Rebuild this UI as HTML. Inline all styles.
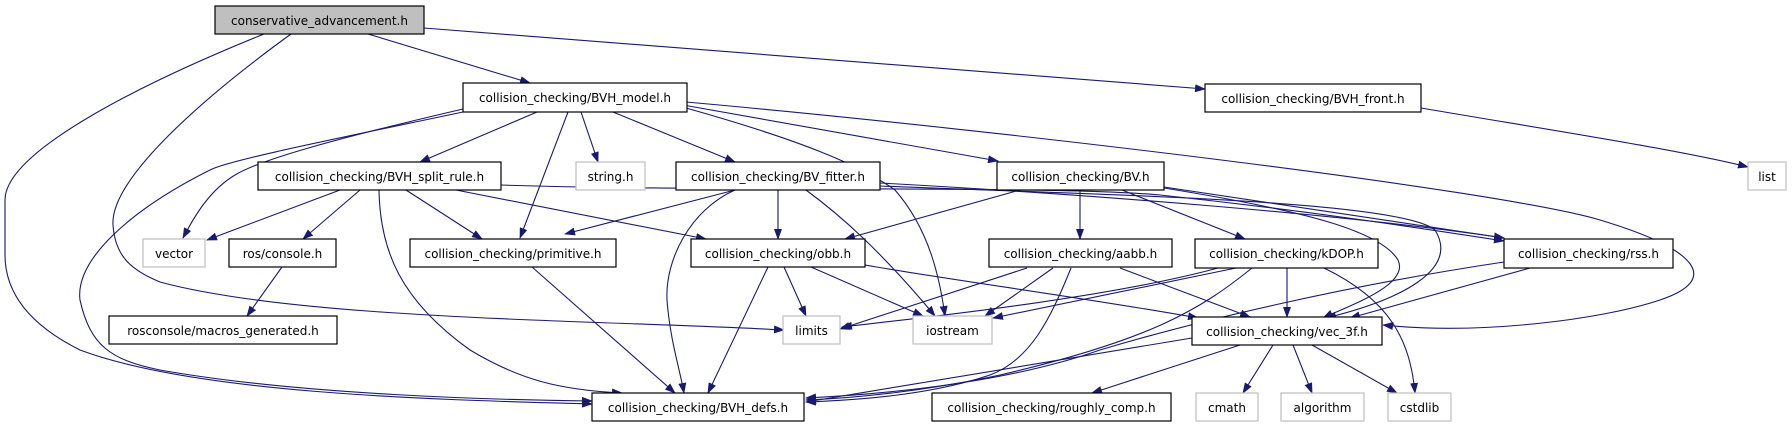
<!DOCTYPE html>
<html><head><meta charset="utf-8"><style>
html,body{margin:0;padding:0;background:#fff;}
svg{display:block;}
text{font-family:"DejaVu Sans","Liberation Sans",sans-serif;font-size:12px;fill:#000;}
.n{fill:#fff;stroke:#000;stroke-width:1.2;}
.g{fill:#fff;stroke:#bfbfbf;stroke-width:1.2;}
.e{fill:none;stroke:#191970;stroke-width:1.1;}
</style></head><body>
<svg width="1792" height="427" viewBox="0 0 1792 427" xmlns="http://www.w3.org/2000/svg">
<defs>
<marker id="a" markerWidth="11" markerHeight="8" refX="10" refY="4" orient="auto" markerUnits="userSpaceOnUse">
<path d="M0,0 L11,4 L0,8 z" fill="#191970"/>
</marker>
</defs>
<g class="e" marker-end="url(#a)">
<!-- conservative -->
<path d="M368,34 L530,83"/>
<path d="M424,28 L1205,89"/>
<path d="M291,34 C200,100 110,180 113,225 C115,255 130,270 160,282 C300,320 600,320 784,330"/>
<path d="M264,34 C150,80 5,150 5,200 L5,255 C5,300 40,330 80,350 C200,395 450,400 592,404"/>
<!-- BVH_model -->
<path d="M537,112 L420,162"/>
<path d="M581,112 L598,162"/>
<path d="M613,112 L735,162"/>
<path d="M683,105 L998,161"/>
<path d="M463,109 C330,140 260,160 235,175 C210,190 195,215 183,238"/>
<path d="M463,112 C330,140 230,160 210,170 C130,210 75,260 80,300 C90,345 110,360 160,370 C300,395 500,400 592,401"/>
<path d="M568,112 L520,238"/>
<path d="M686,108 C800,140 860,165 895,190 C930,230 940,280 945,316"/>
<path d="M686,102 C1000,130 1500,190 1600,220 C1700,250 1720,280 1660,300 C1600,320 1480,335 1383,325"/>
<!-- split_rule -->
<path d="M340,190 L207,240"/>
<path d="M360,190 L303,239"/>
<path d="M406,190 L482,239"/>
<path d="M379,190 C380,250 400,300 470,350 C520,380 560,390 622,393"/>
<path d="M456,190 L706,239"/>
<path d="M501,185 C700,192 1050,185 1160,195 C1300,210 1400,225 1504,241"/>
<!-- BV_fitter -->
<path d="M735,190 L565,234"/>
<path d="M778,190 L778,239"/>
<path d="M735,190 C690,210 665,260 667,300 C670,340 680,370 684,393"/>
<path d="M806,190 C840,215 880,250 935,316"/>
<path d="M880,183 C1100,195 1350,215 1504,238"/>
<path d="M880,186 C1100,195 1400,200 1435,230 C1460,270 1400,300 1326,318"/>
<!-- BV.h -->
<path d="M1020,190 L845,239"/>
<path d="M1080,190 L1080,239"/>
<path d="M1122,190 L1245,239"/>
<path d="M1164,187 L1504,238"/>
<path d="M1164,188 C1300,210 1380,230 1398,260 C1410,285 1350,305 1323,318"/>
<!-- obb -->
<path d="M784,267 L806,316"/>
<path d="M811,267 L923,316"/>
<path d="M768,267 L708,393"/>
<path d="M865,265 C950,280 1100,300 1198,318"/>
<!-- aabb -->
<path d="M1027,268 L840,329"/>
<path d="M1053,268 L985,316"/>
<path d="M1071,268 C1050,320 1030,360 990,375 C930,395 860,400 806,402"/>
<path d="M1120,268 L1250,317"/>
<!-- kDOP -->
<path d="M1218,268 C1100,300 900,320 842,327"/>
<path d="M1236,268 L993,318"/>
<path d="M1252,268 C1200,310 1150,340 1000,375 C930,390 860,398 806,400"/>
<path d="M1287,268 L1287,317"/>
<path d="M1324,268 C1390,300 1410,340 1415,393"/>
<!-- rss -->
<path d="M1504,262 C1350,285 1200,320 1100,350 C1000,385 870,395 806,398"/>
<path d="M1530,268 L1350,318"/>
<!-- vec_3f -->
<path d="M1192,338 L806,402"/>
<path d="M1240,345 L1092,393"/>
<path d="M1273,345 L1243,393"/>
<path d="M1293,345 L1312,393"/>
<path d="M1312,345 L1397,393"/>
<!-- others -->
<path d="M282,267 L247,316"/>
<path d="M532,267 L675,393"/>
<path d="M1421,108 C1550,130 1680,150 1748,167"/>
</g>

<rect x="215" y="6" width="209" height="28" fill="#bfbfbf" stroke="#000" stroke-width="1.2"/>
<text x="319.5" y="25" text-anchor="middle">conservative_advancement.h</text>

<rect class="n" x="463" y="83" width="224" height="29"/><text x="575" y="102" text-anchor="middle">collision_checking/BVH_model.h</text>
<rect class="n" x="1205" y="84" width="216" height="28"/><text x="1313" y="103" text-anchor="middle">collision_checking/BVH_front.h</text>
<rect class="g" x="1748" y="162" width="38" height="28"/><text x="1767" y="181" text-anchor="middle">list</text>

<rect class="n" x="258" y="162" width="243" height="28"/><text x="379.5" y="181" text-anchor="middle">collision_checking/BVH_split_rule.h</text>
<rect class="g" x="576" y="162" width="69" height="28"/><text x="610.5" y="181" text-anchor="middle">string.h</text>
<rect class="n" x="676" y="162" width="204" height="28"/><text x="778" y="181" text-anchor="middle">collision_checking/BV_fitter.h</text>
<rect class="n" x="997" y="162" width="167" height="28"/><text x="1080.5" y="181" text-anchor="middle">collision_checking/BV.h</text>

<rect class="g" x="143" y="239" width="62" height="28"/><text x="174" y="258" text-anchor="middle">vector</text>
<rect class="n" x="229" y="239" width="107" height="28"/><text x="282.5" y="258" text-anchor="middle">ros/console.h</text>
<rect class="n" x="410" y="239" width="206" height="28"/><text x="513" y="258" text-anchor="middle">collision_checking/primitive.h</text>
<rect class="n" x="691" y="239" width="174" height="28"/><text x="778" y="258" text-anchor="middle">collision_checking/obb.h</text>
<rect class="n" x="989" y="239" width="183" height="28"/><text x="1080.5" y="258" text-anchor="middle">collision_checking/aabb.h</text>
<rect class="n" x="1195" y="239" width="183" height="29"/><text x="1286.5" y="258" text-anchor="middle">collision_checking/kDOP.h</text>
<rect class="n" x="1504" y="239" width="169" height="29"/><text x="1588.5" y="258" text-anchor="middle">collision_checking/rss.h</text>

<rect class="n" x="109" y="316" width="228" height="28"/><text x="223" y="335" text-anchor="middle">rosconsole/macros_generated.h</text>
<rect class="g" x="783" y="316" width="57" height="28"/><text x="811.5" y="335" text-anchor="middle">limits</text>
<rect class="g" x="913" y="316" width="79" height="28"/><text x="952.5" y="335" text-anchor="middle">iostream</text>
<rect class="n" x="1192" y="317" width="190" height="28"/><text x="1287" y="336" text-anchor="middle">collision_checking/vec_3f.h</text>

<rect class="n" x="592" y="393" width="212" height="28"/><text x="698" y="412" text-anchor="middle">collision_checking/BVH_defs.h</text>
<rect class="n" x="932" y="393" width="239" height="28"/><text x="1051.5" y="412" text-anchor="middle">collision_checking/roughly_comp.h</text>
<rect class="g" x="1196" y="393" width="62" height="28"/><text x="1227" y="412" text-anchor="middle">cmath</text>
<rect class="g" x="1281" y="393" width="83" height="28"/><text x="1322.5" y="412" text-anchor="middle">algorithm</text>
<rect class="g" x="1388" y="393" width="63" height="28"/><text x="1419.5" y="412" text-anchor="middle">cstdlib</text>
</svg>
</body></html>
